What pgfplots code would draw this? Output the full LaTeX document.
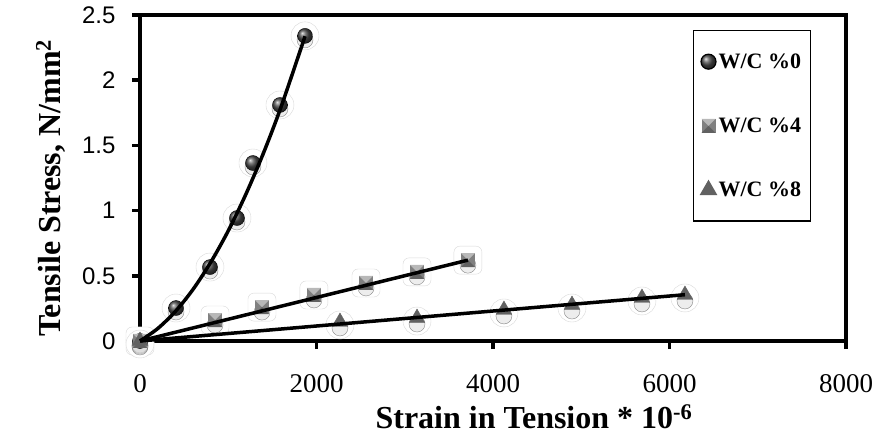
\documentclass[border=0pt]{standalone}
\usepackage{fontspec}
\setmainfont{Liberation Serif}
\newfontfamily\arialf{Liberation Sans}
\usepackage{pgfplots}
\pgfplotsset{compat=1.18}

\pgfdeclareplotmark{bevsq}{%
  \pgfpathrectangle{\pgfpoint{-\pgfplotmarksize}{-\pgfplotmarksize}}{\pgfpoint{2\pgfplotmarksize}{2\pgfplotmarksize}}%
  \pgfsetfillcolor{black!50}\pgfusepath{fill}%
  \pgfpathmoveto{\pgfpoint{-\pgfplotmarksize}{\pgfplotmarksize}}%
  \pgfpathlineto{\pgfpoint{\pgfplotmarksize}{\pgfplotmarksize}}%
  \pgfpathlineto{\pgfpoint{0pt}{0pt}}\pgfpathclose
  \pgfsetfillcolor{black!28}\pgfusepath{fill}%
  \pgfpathmoveto{\pgfpoint{-\pgfplotmarksize}{-\pgfplotmarksize}}%
  \pgfpathlineto{\pgfpoint{\pgfplotmarksize}{-\pgfplotmarksize}}%
  \pgfpathlineto{\pgfpoint{0pt}{0pt}}\pgfpathclose
  \pgfsetfillcolor{black!62}\pgfusepath{fill}%
}
\pgfdeclareplotmark{halosq}{%
  \pgfsetcornersarced{\pgfpoint{6pt}{6pt}}%
  \pgfpathrectangle{\pgfpoint{-\pgfplotmarksize}{-\pgfplotmarksize}}{\pgfpoint{2\pgfplotmarksize}{2\pgfplotmarksize}}%
  \pgfusepath{fill,stroke}%
}

\pgfplotstableread{
x y
0 0
408 0.253
793 0.567
1099 0.943
1280 1.365
1586 1.81
1870 2.34
}\wcz
\pgfplotstableread{
x y
0 0
850 0.161
1382 0.26
1971 0.353
2561 0.445
3139 0.53
3716 0.62
}\wcf
\pgfplotstableread{
x y
0 0
2266 0.146
3139 0.176
4124 0.238
4895 0.276
5688 0.33
6175 0.353
}\wce

\begin{document}
\begin{tikzpicture}
\begin{axis}[
  set layers=standard,
  at={(0pt,0pt)}, anchor=south west,
  scale only axis, width=706pt, height=326pt,
  xmin=0, xmax=8000, ymin=0, ymax=2.5,
  xtick={0,2000,4000,6000,8000},
  ytick={0,0.5,1,1.5,2,2.5},
  scaled x ticks=false, scaled y ticks=false,
  /pgf/number format/assume math mode=true,
  /pgf/number format/1000 sep={},
  axis line style={line width=4.5pt},
  tick align=outside, xtick pos=bottom, ytick pos=left,
  major tick length=8pt,
  tick style={line width=3.5pt, black},
  xticklabel style={font=\fontsize{27}{27}\selectfont, yshift=-22pt},
  yticklabel style={font=\arialf\fontsize{24}{24}\selectfont, xshift=-13pt},
  xlabel={\textbf{Strain in Tension * 10\textsuperscript{-6}}},
  ylabel={\textbf{Tensile Stress, N/mm\textsuperscript{2}}},
  every axis x label/.style={at={(rel axis cs:0.558,-0.267)}, anchor=base, font=\fontsize{32}{32}\selectfont},
  every axis y label/.style={at={(rel axis cs:-0.1133,0.469)}, rotate=90, anchor=base, font=\fontsize{32}{32}\selectfont},
  clip=false,
  legend style={at={(rel axis cs:0.783,0.954)}, anchor=north west, draw=black, line width=1.2pt, fill=white,
    font=\bfseries\fontsize{22}{22}\selectfont, row sep=44pt, inner ysep=21pt, inner xsep=7pt,
    cells={anchor=west}},
  legend cell align=left,
]
% halos
\addplot[only marks, forget plot, mark=*, mark size=14pt, mark options={fill=white, draw=gray!30, line width=0.4pt}] table {\wcz};
\addplot[only marks, forget plot, mark=halosq, mark size=14pt, mark options={fill=white, draw=gray!30, line width=0.4pt}] table {\wcf};
\addplot[only marks, forget plot, mark=*, mark size=14pt, mark options={fill=white, draw=gray!30, line width=0.4pt, yshift=-3pt}] table {\wce};
% soft shadows
\addplot[only marks, forget plot, mark=*, mark size=8pt, mark options={fill=gray!30, draw=none, yshift=-4pt, opacity=0.45}] table {\wcz};
\addplot[only marks, forget plot, mark=*, mark size=8pt, mark options={fill=gray!30, draw=none, yshift=-5pt, opacity=0.45}] table {\wcf};
\addplot[only marks, forget plot, mark=*, mark size=8pt, mark options={fill=gray!30, draw=none, yshift=-6pt, opacity=0.45}] table {\wce};
% markers
\addplot[only marks, mark=ball, mark size=7.5pt, mark options={ball color=gray!60!black, draw=none}] table {\wcz};
\addlegendentry{W/C \%0}
\addplot[only marks, mark=bevsq, mark size=7pt] table {\wcf};
\addlegendentry{W/C \%4}
\addplot[only marks, mark=triangle*, mark size=9pt, mark options={fill=black!62, draw=black!62}] table {\wce};
\addlegendentry{W/C \%8}
% trend lines
\addplot[forget plot, on layer=axis foreground, black, line width=3.5pt, smooth] coordinates {
(0,0) (200,0.095) (400,0.226) (600,0.395) (800,0.602) (1000,0.845) (1200,1.126) (1400,1.443) (1600,1.798) (1870,2.337)};
\addplot[forget plot, on layer=axis foreground, black, line width=3.5pt] coordinates {(0,0) (3716,0.62)};
\addplot[forget plot, on layer=axis foreground, black, line width=3.5pt] coordinates {(0,0) (6175,0.355)};
\end{axis}
\pgfresetboundingbox
\useasboundingbox (-140pt,-100pt) rectangle (737pt,341pt);
\end{tikzpicture}
\end{document}
